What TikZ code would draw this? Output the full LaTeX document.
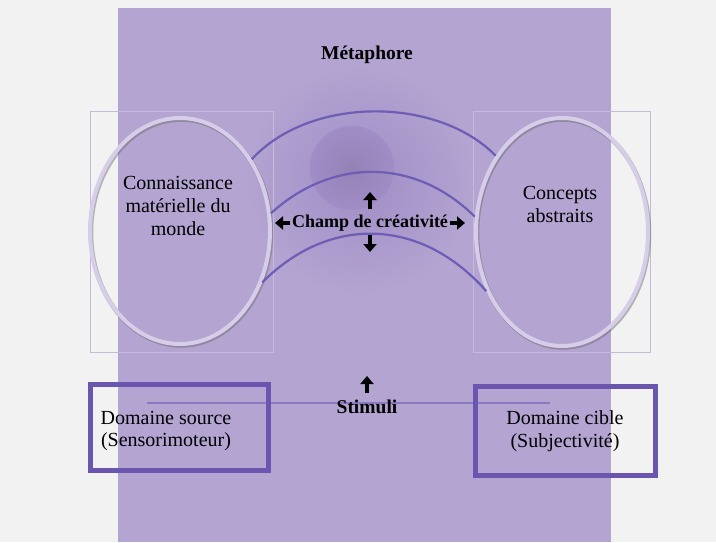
\documentclass[tikz,border=0pt]{standalone}
\usepackage{fontspec}
\setmainfont{Liberation Serif}
\usetikzlibrary{shapes.geometric,arrows.meta}

\definecolor{fondc}{HTML}{F2F2F2}
\definecolor{bandc}{HTML}{B3A4D1}
\definecolor{blobc}{HTML}{A08DC6}
\definecolor{bullec}{HTML}{D6CEE8}
\definecolor{boxc}{HTML}{6A56AE}
\definecolor{arcc}{HTML}{6C5DB5}
\definecolor{cadrec}{HTML}{C4BADC}

\begin{document}
\begin{tikzpicture}[x=1pt,y=-1pt,
	bulle/.style={ellipse, draw=bullec, line width=4pt, minimum width=180pt, minimum height=226pt, inner sep=0pt,
		preaction={draw=black!60, line width=4.5pt, opacity=.45, transform canvas={xshift=1pt, yshift=-1.5pt}}},
	cadre/.style={rectangle, draw=boxc, line width=5pt, minimum width=178pt, minimum height=86pt, inner sep=0pt},
	texte/.style={align=center, font=\fontsize{20}{23}\selectfont},
	titre/.style={font=\fontsize{19.5}{22}\selectfont\bfseries},
	lien/.style={draw=arcc, line width=2.2pt},
	fleche/.style={line width=4pt, -{Triangle[width=13pt,length=8pt]}}]
			
			\useasboundingbox (0,0) rectangle (716,542);
			% background and purple band
			\fill[fondc] (0,0) rectangle (716,542);
			\fill[bandc] (118,8) rectangle (611,542);
			\shade[inner color=blobc, outer color=bandc] (360,180) circle (115pt);
			\shade[inner color=blobc!92!black, outer color=blobc] (352,168) circle (42pt);
			% faint frames
			\draw[cadrec, line width=.5pt] (90,111) rectangle (273,352);
			\draw[cadrec, line width=.5pt] (473,111) rectangle (650,352);
			
			% Left and right ellipses
			\node[bulle] (lg) at (180,231) {};
			\node[bulle, minimum width=172pt, minimum height=228pt] (ld) at (562,232) {};
			\node[texte] (connaissance) at (178,206) {Connaissance\\mat\'erielle du\\monde};
			\node[texte] (concepts) at (560,204) {Concepts\\abstraits};
			
			% Arcs between the ellipses
			\draw[lien] (lg.45) .. controls (310,96) and (437,96) .. (ld.131);
			\draw[lien] (lg.11.7) .. controls (332,157.5) and (415,157.5) .. (ld.170);
			\draw[lien] (lg.-32) .. controls (328,216) and (420,216) .. (ld.218);
			
			% Titles
			\node[titre] (metaphore) at (367,55) {M\'etaphore};
			\node[titre, font=\fontsize{18}{21}\selectfont\bfseries, inner sep=1.5pt] (champ) at (370,223) {Champ de cr\'eativit\'e};
			\coordinate (cg) at (275,223);
			\coordinate (cd) at (465,223);
			\coordinate (ch0) at (370,209);
			\coordinate (ch1) at (370,192);
			\coordinate (cb0) at (370,235);
			\coordinate (cb1) at (370,252);
			\draw[fleche] (champ.west) -- (cg);
			\draw[fleche] (champ.east) -- (cd);
			\draw[fleche] (ch0) -- (ch1);
			\draw[fleche] (cb0) -- (cb1);
			
			% Stimuli line and boxes
			\coordinate (sg) at (147,403);
			\coordinate (sd) at (550,403);
			\draw[arcc!60!bandc, line width=1.2pt] (sg) -- (sd);
			\node[titre] (stimuli) at (367,407) {Stimuli};
			\coordinate (st0) at (367,393);
			\coordinate (st1) at (367,376);
			\draw[fleche] (st0) -- (st1);
			
			\node[cadre] (source) at (179,427.5) {};
			\node[cadre, minimum width=180pt, minimum height=89pt] (cible) at (565,431) {};
			\node[texte] at (166,431) {Domaine source\\(Sensorimoteur)};
			\node[texte] at (565,431) {Domaine cible\\(Subjectivit\'e)};
		\end{tikzpicture}
\end{document}
